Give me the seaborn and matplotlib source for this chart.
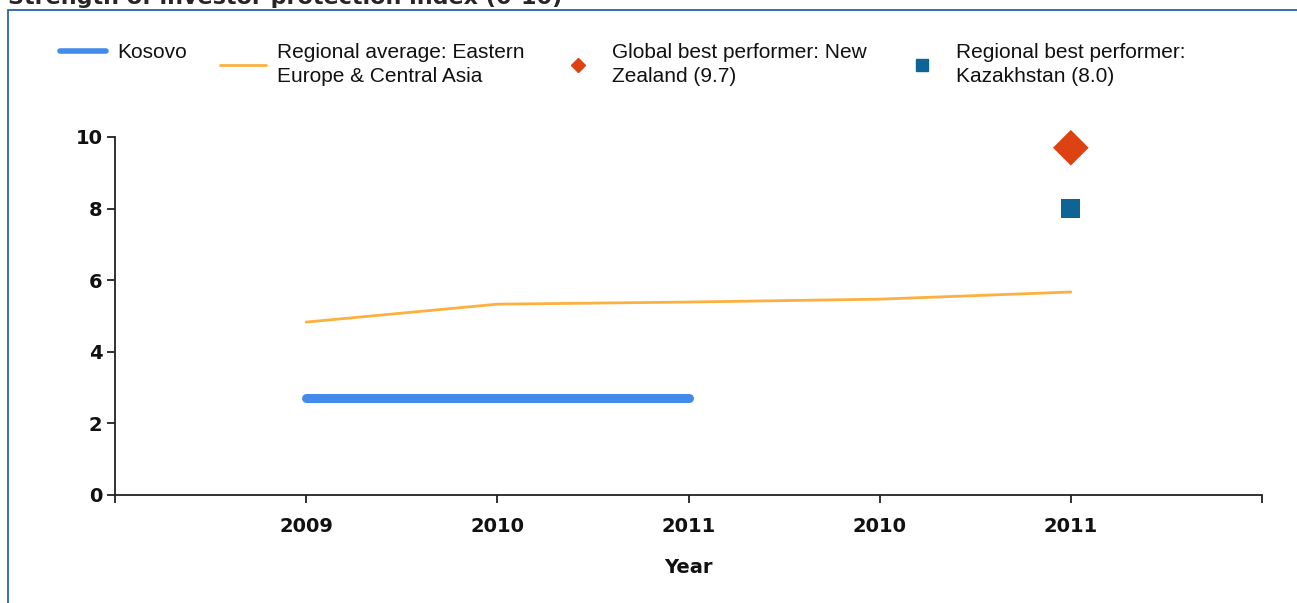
"""
Strength of investor protection index (0-10) - Kosovo vs region
"""

import pandas as pd
import matplotlib.pyplot as plt
import matplotlib.patches as patches
from matplotlib.lines import Line2D
import seaborn as sns

# ============================================
# Data
# ============================================
year_labels = ["2009", "2010", "2011", "2010", "2011"]
kosovo_pos = [0, 1, 2]
kosovo_vals = [2.7, 2.7, 2.7]
regional_pos = [0, 1, 2, 3, 4]
regional_vals = [4.83, 5.33, 5.39, 5.47, 5.67]
global_best_pos = [4]
global_best_vals = [9.7]
regional_best_pos = [4]
regional_best_vals = [8.0]

legend_labels = ["Kosovo",
                 "Regional average: Eastern\nEurope & Central Asia",
                 "Global best performer: New\nZealand (9.7)",
                 "Regional best performer:\nKazakhstan (8.0)"]

c_kosovo = "#428BEA"
c_regional = "#FCB040"
c_global = "#DD4212"
c_regbest = "#0E6494"

sns.set_style("white")
plt.rcParams['font.family'] = ['DejaVu Sans']

W, H = 1297, 603
fig = plt.figure(figsize=(W / 100, H / 100), dpi=100)
ax = fig.add_axes([115 / W, 1 - 495 / H, (1262 - 115) / W, (495 - 137) / H])

kos = pd.DataFrame({'x': kosovo_pos, 'y': kosovo_vals})
reg = pd.DataFrame({'x': regional_pos, 'y': regional_vals})

sns.lineplot(data=kos, x='x', y='y', ax=ax, color=c_kosovo, linewidth=6.5,
             solid_capstyle='round')
sns.lineplot(data=reg, x='x', y='y', ax=ax, color=c_regional, linewidth=2)
sns.scatterplot(x=global_best_pos, y=global_best_vals, ax=ax, marker='D',
                s=330, color=c_global, edgecolor='none', zorder=5, clip_on=False)
sns.scatterplot(x=regional_best_pos, y=regional_best_vals, ax=ax, marker='s',
                s=190, color=c_regbest, edgecolor='none', zorder=5, clip_on=False)

ax.set_xlim(-1, 5)
ax.set_ylim(0, 10)
ax.set_xticks(range(len(year_labels)))
ax.set_xticklabels(year_labels, fontsize=14, fontweight='bold', color='#111111')
ax.set_xticks([-1, 5], minor=True)
ax.set_yticks([0, 2, 4, 6, 8, 10])
ax.set_yticklabels(["0", "2", "4", "6", "8", "10"], fontsize=14, fontweight='bold',
                   color='#111111')
ax.set_xlabel("Year", fontsize=14, fontweight='bold', labelpad=16, color='#111111')
ax.set_ylabel("")

sns.despine(ax=ax)
for side in ['left', 'bottom']:
    ax.spines[side].set_color('#222222')
    ax.spines[side].set_linewidth(1.3)
ax.tick_params(axis='both', which='both', direction='out', length=6, width=1.3,
               color='#222222', bottom=True, left=True)
ax.tick_params(axis='x', pad=10)
ax.tick_params(axis='y', pad=3)

# legend: one small legend per entry so each sits where the reference has it
handles = [Line2D([], [], color=c_kosovo, linewidth=4),
           Line2D([], [], color=c_regional, linewidth=2),
           Line2D([], [], color=c_global, marker='D', linestyle='none', markersize=7),
           Line2D([], [], color=c_regbest, marker='s', linestyle='none', markersize=9)]
legend_x = [60, 220, 555, 899]
for h, lab, x in zip(handles, legend_labels, legend_x):
    leg = fig.legend([h], [lab], loc='upper left', bbox_to_anchor=(x / W, 1 - 43 / H),
                     frameon=False, handlelength=2.2, handletextpad=0.55,
                     borderpad=0, borderaxespad=0, labelspacing=0.1,
                     prop={'family': 'Liberation Sans', 'size': 15})
    for t in leg.get_texts():
        t.set_linespacing(1.32)
        t.set_color('#111111')

# frame border and clipped title
fig.patches.append(patches.Rectangle((8 / W, -0.05), 1.1, 1 - 10 / H + 0.05,
                                     transform=fig.transFigure, fill=False,
                                     edgecolor='#2563AE', linewidth=1.3))
fig.text(8 / W, 1 - 4 / H, "Strength of investor protection index (0-10)",
         fontsize=16, fontweight='bold', va='baseline', ha='left')

plt.savefig('out.png', dpi=100)
plt.close()
